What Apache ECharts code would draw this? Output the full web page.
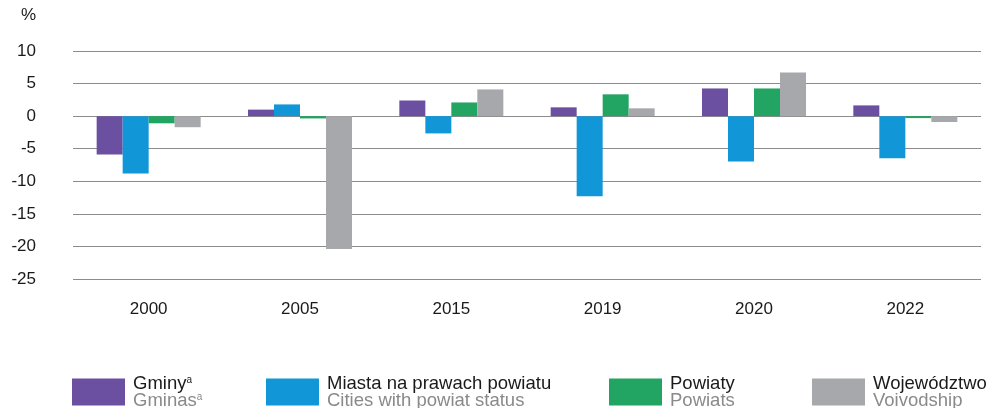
<!DOCTYPE html>
<html><head><meta charset="utf-8">
<script src="https://cdn.jsdelivr.net/npm/echarts@6/dist/echarts.min.js"></script>
<style>html,body{margin:0;padding:0;background:#fff}#c{width:996px;height:408px}</style>
</head><body><div id="c"></div>
<script>
const categories = ['2000','2005','2015','2019','2020','2022'];
const gminy = [-5.9, 1.0, 2.4, 1.35, 4.25, 1.65];
const miasta = [-8.8, 1.8, -2.65, -12.3, -6.95, -6.45];
const powiaty = [-1.1, -0.35, 2.1, 3.35, 4.25, -0.3];
const wojewodztwo = [-1.7, -20.4, 4.1, 1.2, 6.7, -0.9];
const yTicks = {min: -25, max: 10, interval: 5};
const names = [
  ['Gminy', 'Gminas', true],
  ['Miasta na prawach powiatu', 'Cities with powiat status', false],
  ['Powiaty', 'Powiats', false],
  ['Województwo', 'Voivodship', false]
];
const colors = ['#6B4FA0', '#1197D8', '#22A463', '#A7A8AB'];
const seriesData = [gminy, miasta, powiaty, wojewodztwo];
const legendLeft = [72, 266, 609, 812];

const font = '"Liberation Sans", Arial, sans-serif';
const chart = echarts.init(document.getElementById('c'));
const legends = names.map((n, i) => ({
  data: [n[0]],
  left: legendLeft[i],
  top: 374,
  padding: 0,
  itemWidth: 53,
  itemHeight: 27,
  itemGap: 0,
  icon: 'rect',
  selectedMode: false,
  textStyle: {
    fontFamily: font,
    padding: [0, 0, 0, 3],
    rich: {
      a: {fontSize: 18.5, color: '#1a1a1a', fontFamily: font, lineHeight: 17},
      b: {fontSize: 18.5, color: '#8a8a8a', fontFamily: font, lineHeight: 17},
      sa: {fontSize: 10, color: '#1a1a1a', fontFamily: font, lineHeight: 17, verticalAlign: 'top', padding: [0,0,6,0]},
      sb: {fontSize: 10, color: '#8a8a8a', fontFamily: font, lineHeight: 17, verticalAlign: 'top', padding: [0,0,6,0]}
    }
  },
  formatter: () => n[2] ? `{a|${n[0]}}{sa|a}\n{b|${n[1]}}{sb|a}` : `{a|${n[0]}}\n{b|${n[1]}}`
}));

chart.setOption({
  animation: false,
  title: {text: '%', left: 21, top: 7, padding: 0, textStyle: {fontFamily: font, fontSize: 17, fontWeight: 'normal', color: '#1a1a1a'}},
  legend: legends,
  grid: {left: 73, right: 15, top: 51, bottom: 129, containLabel: false},
  xAxis: {
    type: 'category', data: categories,
    axisLine: {show: false}, axisTick: {show: false},
    axisLabel: {margin: 22, fontFamily: font, fontSize: 17, color: '#1a1a1a'}
  },
  yAxis: {
    type: 'value', min: yTicks.min, max: yTicks.max, interval: yTicks.interval,
    axisLine: {show: false}, axisTick: {show: false},
    axisLabel: {margin: 37, fontFamily: font, fontSize: 17, color: '#1a1a1a'},
    splitLine: {lineStyle: {color: '#8c8c8c', width: 1}}
  },
  series: seriesData.map((d, i) => ({
    name: names[i][0], type: 'bar', data: d, barWidth: 26, barGap: '0%',
    itemStyle: {color: colors[i]}
  }))
});
</script></body></html>
